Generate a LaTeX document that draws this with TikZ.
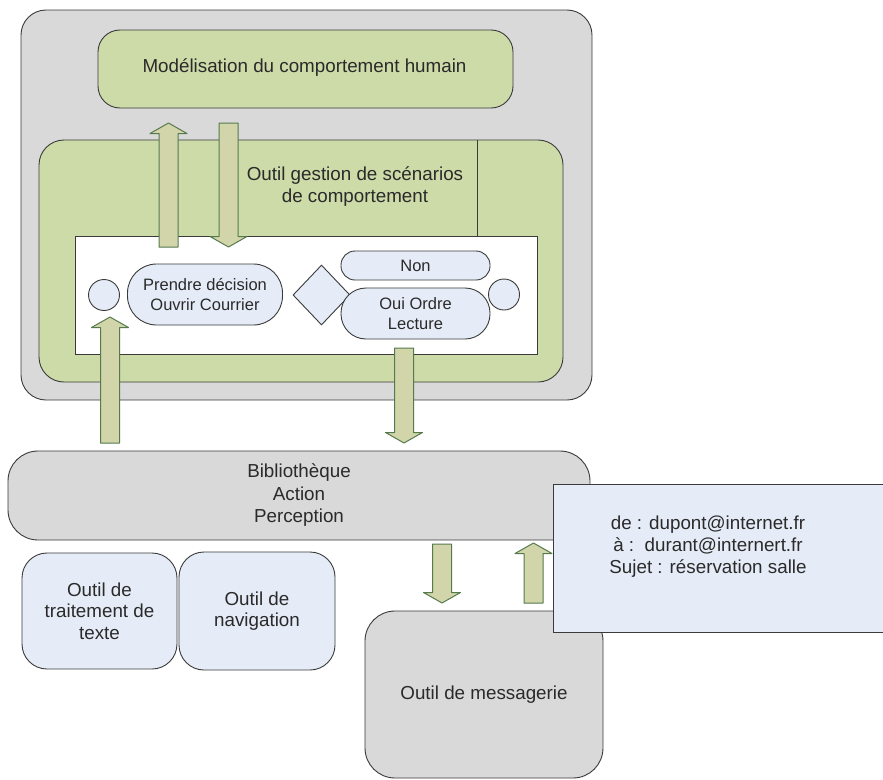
\documentclass[tikz,border=0pt]{standalone}
\usepackage{fontspec}
\setmainfont{Liberation Sans}
\usetikzlibrary{shapes.geometric,calc}
\definecolor{boxgray}{HTML}{D9D9D9}
\definecolor{boxgreen}{HTML}{CDDBA8}
\definecolor{boxblue}{HTML}{E6ECF7}
\definecolor{arrfill}{HTML}{D2D5A9}
\definecolor{arrline}{HTML}{557A4E}
\definecolor{edgecol}{HTML}{3A3A3A}
\definecolor{txtcol}{HTML}{2A2A2A}
\tikzset{
  box/.style={draw=edgecol, line width=0.9pt, inner sep=0pt, align=center},
  rbox/.style={box, rectangle, rounded corners=#1},
  sz/.style 2 args={minimum width=#1pt, minimum height=#2pt},
  smalltext/.style={font=\fontsize{16.5}{20}\selectfont},
  bigtext/.style={font=\fontsize{18.8}{22.5}\selectfont},
  barrow/.style={draw=arrline, fill=arrfill, line width=1pt, line join=round},
  divider/.style={draw=edgecol, line width=0.9pt}
}
\newcommand\blockarr[2]{%
  \draw[barrow] let \p1=(#1), \p2=(#2), \n1={ifthenelse(\y2>\y1,1,-1)} in
    ({\x1-9.5pt},\y1) -- ({\x1-9.5pt},{\y2-\n1*10.5pt}) -- ({\x1-18.5pt},{\y2-\n1*10.5pt})
    -- (\x2,\y2) -- ({\x1+18.5pt},{\y2-\n1*10.5pt}) -- ({\x1+9.5pt},{\y2-\n1*10.5pt})
    -- ({\x1+9.5pt},\y1) -- cycle;}
\begin{document}
\begin{tikzpicture}[x=1pt, y=-1pt, text=txtcol, font=\fontsize{18.8}{22}\selectfont]
\useasboundingbox (0,0) rectangle (883,779);

% upper part
\node[rbox=25, fill=boxgray, sz={571}{390}] (outer) at (306.5,205) {};
\node[rbox=22, fill=boxgreen, sz={415}{78}] (model) at (305.5,69) {};
\node (modeltxt) at (304.5,68) {Modélisation du comportement humain};
\node[rbox=25, fill=boxgreen, sz={524}{242}] (scen) at (301,261) {};
\draw[divider] (477,140) -- (477,236);
\node[align=center, font=\fontsize{18.8}{22}\selectfont] (scentxt) at (355,187) {Outil gestion de scénarios\\de comportement};
\node[box, fill=white, sz={462}{118}] (act) at (306,295) {};
\node[box, circle, fill=boxblue, minimum size=31pt] (start) at (104,295) {};
\node[rbox=29, fill=boxblue, sz={155}{61}, smalltext] (dec) at (205,294.5) {Prendre décision\\Ouvrir Courrier};
\node[box, diamond, fill=boxblue, sz={57}{60}] (choice) at (321.5,295) {};
\node[rbox=14, fill=boxblue, sz={149}{29}, smalltext] (non) at (415.5,265.5) {Non};
\node[rbox=25, fill=boxblue, sz={149}{51}, smalltext] (oui) at (415.5,313.5) {Oui Ordre\\Lecture};
\node[box, circle, fill=boxblue, minimum size=31pt] (stop) at (504,294.5) {};

% arrows of the upper part
\coordinate (a1s) at (168.5,247); \coordinate (a1e) at (168.5,123);
\coordinate (a2s) at (228.5,123); \coordinate (a2e) at (228.5,247);
\coordinate (a3s) at (110,443);   \coordinate (a3e) at (110,317);
\coordinate (a4s) at (404,348);   \coordinate (a4e) at (404,443);
\blockarr{a1s}{a1e}
\blockarr{a2s}{a2e}
\blockarr{a3s}{a3e}
\blockarr{a4s}{a4e}

% lower part
\node[rbox=30, fill=boxgray, sz={582}{89}, bigtext] (lib) at (299,495.5) {Bibliothèque\\Action\\Perception};
\node[rbox=25, fill=boxblue, sz={155}{116}, font=\fontsize{18.8}{21.5}\selectfont] (trait) at (99.5,611) {Outil de\\traitement de\\texte};
\node[rbox=25, fill=boxblue, sz={156}{118}, font=\fontsize{18.8}{20.5}\selectfont] (nav) at (257,611) {Outil de\\navigation};
\node[rbox=30, fill=boxgray, sz={238}{167}] (mess) at (484,694.5) {Outil de messagerie};
\node[box, rectangle, fill=boxblue, sz={347}{148}] (mail) at (726.5,558) {};
\node[align=center, font=\fontsize{18.8}{22}\selectfont] (mailtxt) at (708,547) {de : dupont@internet.fr\\à :\ \ durant@internert.fr\\Sujet : réservation salle};

\coordinate (a5s) at (442,544);   \coordinate (a5e) at (442,603);
\coordinate (a6s) at (533.5,603); \coordinate (a6e) at (533.5,543);
\blockarr{a5s}{a5e}
\blockarr{a6s}{a6e}
\end{tikzpicture}
\end{document}
